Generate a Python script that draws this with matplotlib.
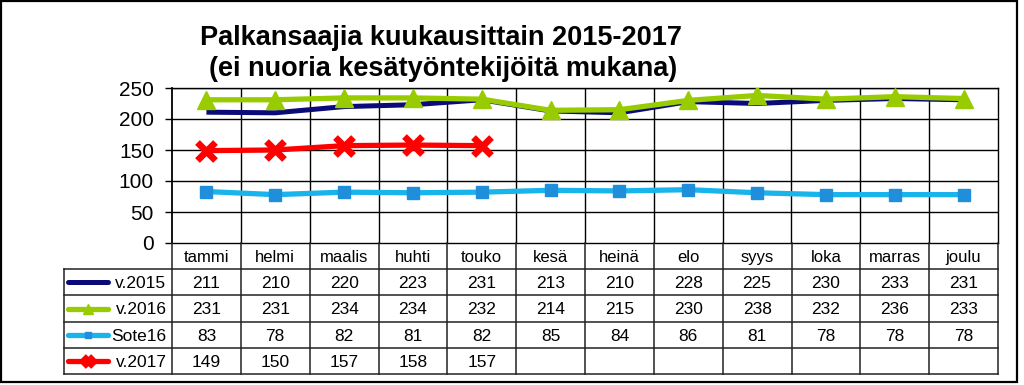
import matplotlib
matplotlib.use("Agg")
import matplotlib.pyplot as plt
from matplotlib.patches import Rectangle

plt.rcParams['font.family'] = ['Liberation Sans', 'DejaVu Sans']

# data
months = ['tammi', 'helmi', 'maalis', 'huhti', 'touko', 'kesä',
          'heinä', 'elo', 'syys', 'loka', 'marras', 'joulu']
v2015 = [211, 210, 220, 223, 231, 213, 210, 228, 225, 230, 233, 231]
v2016 = [231, 231, 234, 234, 232, 214, 215, 230, 238, 232, 236, 233]
sote16 = [83, 78, 82, 81, 82, 85, 84, 86, 81, 78, 78, 78]
v2017 = [149, 150, 157, 158, 157]
series_names = ['v.2015', 'v.2016', 'Sote16', 'v.2017']
yticks = [0, 50, 100, 150, 200, 250]

W, H = 1024, 385
fig = plt.figure(figsize=(W / 100, H / 100), dpi=100)

# px helpers
def fx(px):
    return px / W

def fy(py):
    return 1 - py / H

left_px, right_px, top_px, bot_px = 172, 998, 88, 243
ax = fig.add_axes([fx(left_px), fy(bot_px), fx(right_px - left_px), (bot_px - top_px) / H])

styles = [
    dict(color='#0a0a78', lw=3.6, marker=None, zorder=3),
    dict(color='#99cc00', lw=3.8, marker='^', ms=13, mfc='#99cc00', mec='#99cc00', zorder=4),
    dict(color='#19b4ec', lw=3.8, marker='s', ms=8, mfc='#1f8fdc', mec='#1f8fdc', zorder=3),
    dict(color='#ff0000', lw=3.8, marker='x', ms=12.5, mew=4.8, zorder=5),
]
all_series = [v2015, v2016, sote16, v2017]
for vals, st in zip(all_series, styles):
    ax.plot(range(len(vals)), vals, solid_capstyle='butt', **st)

ax.set_xlim(-0.5, len(months) - 0.5)
ax.set_ylim(0, 250)
ax.set_yticks(yticks)
ax.set_xticks([])
ax.tick_params(axis='y', labelsize=15, length=5, width=1, pad=8, direction='out')
for y in yticks[1:]:
    ax.axhline(y, color='black', lw=1, zorder=1)
for i in range(1, len(months)):
    ax.axvline(i - 0.5, color='black', lw=1, zorder=1)
for s in ax.spines.values():
    s.set_linewidth(1)
ax.spines['left'].set_linewidth(1.3)

# data table under the plot
tleft_px, tbot_px = 64, 374
col_w = (right_px - left_px) / len(months)
x0 = -0.5 - (left_px - tleft_px) / col_w
tax = fig.add_axes([fx(tleft_px), fy(tbot_px), fx(right_px - tleft_px), (tbot_px - bot_px) / H])
tax.set_xlim(x0, len(months) - 0.5)
tax.set_ylim(5, 0)
tax.axis('off')
lc = '#222222'
for r in range(1, 6):
    tax.plot([x0, len(months) - 0.5], [r, r], color=lc, lw=1.1, clip_on=False)
tax.plot([x0, x0], [1, 5], color=lc, lw=1.1, clip_on=False)
for i in range(len(months) + 1):
    tax.plot([i - 0.5, i - 0.5], [0, 5], color=lc, lw=1.1, clip_on=False)

for i, m in enumerate(months):
    tax.text(i, 0.55, m, ha='center', va='center', fontsize=12)
for r, (name, vals, st) in enumerate(zip(series_names, all_series, styles)):
    yc = r + 1.55
    for i, v in enumerate(vals):
        tax.text(i, yc, str(v), ha='center', va='center', fontsize=12.5)
    xs = [x0 + 0.06, x0 + 0.64]
    tax.plot(xs, [r + 1.5, r + 1.5], color=st['color'], lw=st['lw'], solid_capstyle='round', clip_on=False)
    if st['marker']:
        mk = dict(st)
        mk.pop('lw'); mk.pop('zorder')
        mk['ms'] = st['ms'] * 0.55
        tax.plot([x0 + 0.35], [r + 1.5], ls='none', clip_on=False, **mk)
    tax.text(-0.58, yc, name, ha='right', va='center', fontsize=12.5)

# title
fig.text(fx(441), fy(38), 'Palkansaajia kuukausittain 2015-2017', ha='center', va='center',
         fontsize=19.5, fontweight='bold')
fig.text(fx(443), fy(69), '(ei nuoria kesätyöntekijöitä mukana)', ha='center', va='center',
         fontsize=19.5, fontweight='bold')

# outer frame
fig.patches.append(Rectangle((fx(1), fy(382)), fx(1016), (381) / H, transform=fig.transFigure,
                             fill=False, edgecolor='black', lw=1.6))

fig.savefig('out.png', dpi=100)
